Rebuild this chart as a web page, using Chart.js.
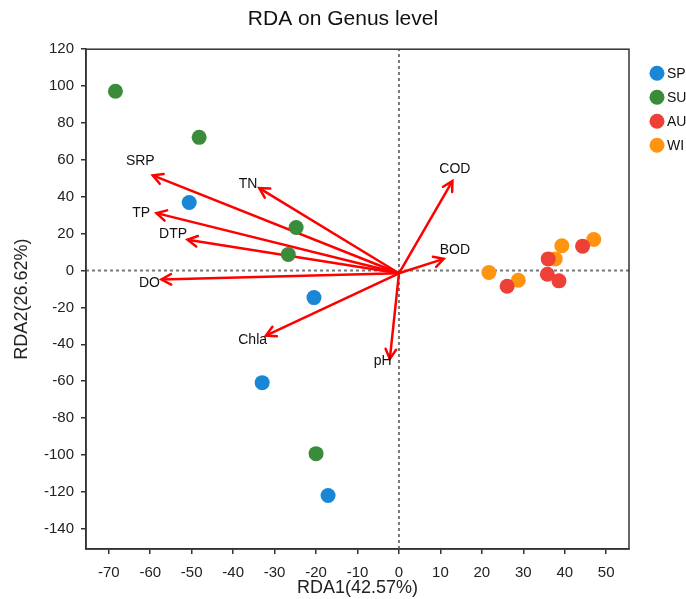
<!DOCTYPE html>
<html>
<head>
<meta charset="utf-8">
<script src="https://cdn.jsdelivr.net/npm/chart.js@4.4.1/dist/chart.umd.min.js"></script>
<style>
  html, body { margin: 0; background: #fff; }
</style>
</head>
<body>
<canvas id="rda" width="686" height="599"></canvas>
<script>
// ── Data ───────────────────────────────────────────────────────────────────
const groupNames = ['SP', 'SU', 'AU', 'WI'];
const groupColors = ['#1a86d6', '#3a8c3a', '#ee4036', '#ff9410'];

const spX = [-50.6, -20.5, -33.0, -17.1];
const spY = [36.9, -14.7, -60.8, -122.0];
const suX = [-68.4, -48.2, -24.8, -26.7, -20.0];
const suY = [97.2, 72.2, 23.3, 8.7, -99.3];
const auX = [26.1, 36.0, 35.8, 38.6, 44.3];
const auY = [-8.5, 6.3, -2.0, -5.6, 13.2];
const wiX = [21.7, 28.8, 37.7, 39.3, 47.0];
const wiY = [-1.1, -5.3, 6.3, 13.4, 16.8];

// Environmental factor arrows (tip coordinates) and their label positions
const envNames = ['SRP', 'TN', 'TP', 'DTP', 'DO', 'Chla', 'pH', 'COD', 'BOD'];
const envX = [-59.4, -33.7, -58.5, -51.0, -57.3, -32.1, -2.2, 12.9, 10.8];
const envY = [51.6, 44.7, 31.1, 16.7, -4.9, -35.3, -47.9, 48.5, 6.3];
const envLabelX = [-62.4, -36.4, -62.2, -54.5, -60.2, -35.3, -3.9, 13.5, 13.5];
const envLabelY = [59.4, 47.1, 31.3, 19.5, -6.7, -38.0, -49.2, 55.2, 11.2];
const arrowOrigin = { x: 0, y: -1.5 };

const xTicks = [-70, -60, -50, -40, -30, -20, -10, 0, 10, 20, 30, 40, 50];
const yTicks = [-140, -120, -100, -80, -60, -40, -20, 0, 20, 40, 60, 80, 100, 120];
const xRange = [-75.5, 55.5];
const yRange = [-151, 120];

// ── Helpers ────────────────────────────────────────────────────────────────
const zip = (xs, ys) => xs.map((x, i) => ({ x, y: ys[i] }));
const groupData = [zip(spX, spY), zip(suX, suY), zip(auX, auY), zip(wiX, wiY)];

Chart.defaults.font.family = '"Liberation Sans", Arial, sans-serif';
Chart.defaults.color = '#222';

const pointSets = groupNames.map((g, i) => ({
    label: g,
    data: groupData[i],
    backgroundColor: groupColors[i],
    borderWidth: 0,
    pointRadius: 7.5,
    pointHoverRadius: 7.5,
}));

const arrowSets = envNames.map((n, i) => ({
    label: n,
    data: [arrowOrigin, { x: envX[i], y: envY[i] }],
    showLine: true,
    borderColor: '#ff0000',
    borderWidth: 2.5,
    pointRadius: 0,
    isArrow: true,
}));

const zeroSets = [
    { label: 'x0', data: [{ x: 0, y: yRange[0] }, { x: 0, y: yRange[1] }] },
    { label: 'y0', data: [{ x: xRange[0], y: 0 }, { x: xRange[1], y: 0 }] },
].map((d) => ({ ...d, showLine: true, borderColor: '#777', borderWidth: 2, borderDash: [3, 3], pointRadius: 0 }));

// Arrow heads, factor labels, frame and legend.
const rdaDecor = {
    id: 'rdaDecor',
    afterDatasetsDraw(chart) {
        const { ctx, chartArea: a, scales: { x, y } } = chart;
        ctx.save();
        chart.data.datasets.forEach((ds, di) => {
            if (!ds.isArrow) return;
            const pts = chart.getDatasetMeta(di).data;
            const x0 = pts[0].x, y0 = pts[0].y, x1 = pts[1].x, y1 = pts[1].y;
            const ang = Math.atan2(y1 - y0, x1 - x0);
            const L = 11, th = 0.5;
            ctx.strokeStyle = '#ff0000';
            ctx.lineWidth = 2.5;
            ctx.lineCap = 'round';
            ctx.beginPath();
            ctx.moveTo(x1 - L * Math.cos(ang - th), y1 - L * Math.sin(ang - th));
            ctx.lineTo(x1, y1);
            ctx.lineTo(x1 - L * Math.cos(ang + th), y1 - L * Math.sin(ang + th));
            ctx.stroke();
        });

        ctx.fillStyle = '#111';
        ctx.font = '14px "Liberation Sans", Arial, sans-serif';
        ctx.textAlign = 'center';
        ctx.textBaseline = 'middle';
        envNames.forEach((n, i) => {
            ctx.fillText(n, x.getPixelForValue(envLabelX[i]), y.getPixelForValue(envLabelY[i]));
        });

        ctx.strokeStyle = '#333';
        ctx.lineWidth = 1.5;
        ctx.strokeRect(a.left, a.top, a.right - a.left, a.bottom - a.top);

        ctx.textAlign = 'left';
        groupNames.forEach((g, i) => {
            const cy = a.top + 24 + i * 24;
            ctx.fillStyle = groupColors[i];
            ctx.beginPath();
            ctx.arc(a.right + 28, cy, 7.5, 0, Math.PI * 2);
            ctx.fill();
            ctx.fillStyle = '#111';
            ctx.fillText(g, a.right + 38, cy + 1);
        });
        ctx.restore();
    },
};

const axisLine = { display: true, color: '#333', width: 1.5 };
const tickMarks = { drawOnChartArea: false, drawTicks: true, tickLength: 5, color: '#333', lineWidth: 1.5 };

new Chart(document.getElementById('rda'), {
    type: 'scatter',
    data: { datasets: [...pointSets, ...arrowSets, ...zeroSets] },
    options: {
        responsive: false,
        animation: false,
        layout: { padding: 0 },
        plugins: {
            legend: { display: false },
            tooltip: { enabled: false },
            title: {
                display: true,
                text: 'RDA on Genus level',
                color: '#111',
                font: { size: 21, weight: 'normal' },
                padding: { top: 7, bottom: 17 },
            },
        },
        scales: {
            x: {
                type: 'linear',
                min: xRange[0], max: xRange[1],
                afterBuildTicks: (s) => { s.ticks = xTicks.map((v) => ({ value: v })); },
                afterFit: (s) => { s.height = 50; },
                grid: tickMarks,
                border: axisLine,
                ticks: { font: { size: 15 }, color: '#222', padding: 10, maxRotation: 0 },
                title: { display: true, text: 'RDA1(42.57%)', color: '#222', font: { size: 18 }, padding: { top: 0, bottom: 0 } },
            },
            y: {
                type: 'linear',
                min: yRange[0], max: yRange[1],
                afterBuildTicks: (s) => { s.ticks = yTicks.map((v) => ({ value: v })); },
                afterFit: (s) => { s.width = 86; },
                grid: tickMarks,
                border: axisLine,
                ticks: { font: { size: 15 }, color: '#222', padding: 7 },
                title: { display: true, text: 'RDA2(26.62%)', color: '#222', font: { size: 18 }, padding: { top: 11, bottom: 0 } },
            },
            // Empty right-hand strip that holds the legend.
            legendStrip: {
                type: 'linear',
                position: 'right',
                afterFit: (s) => { s.width = 57; },
                grid: { display: false },
                border: { display: false },
                ticks: { display: false },
            },
        },
    },
    plugins: [rdaDecor],
});
</script>
</body>
</html>
